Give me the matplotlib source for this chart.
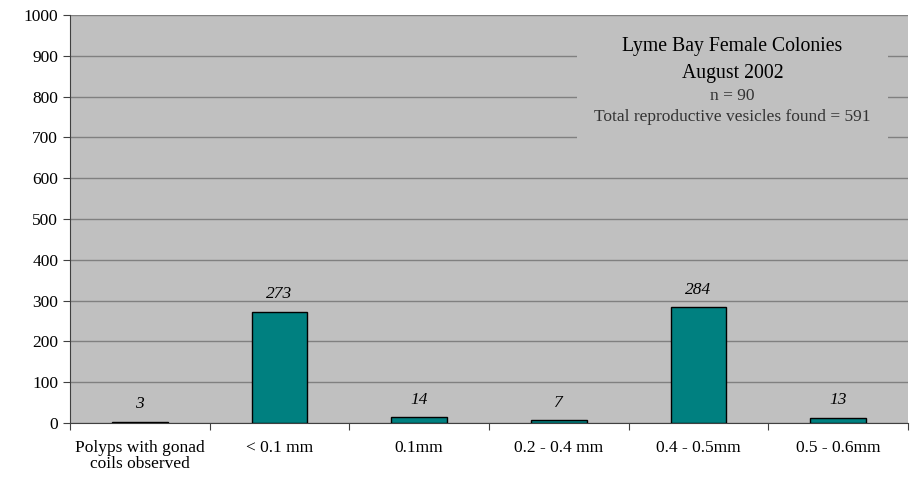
import matplotlib.pyplot as plt
import numpy as np
from matplotlib.patches import Rectangle

plt.rcParams['font.family'] = ['Liberation Serif', 'DejaVu Serif']

# Vesicle counts by size class
categories = ["Polyps with gonad\ncoils observed", "< 0.1 mm", "0.1mm",
              "0.2 - 0.4 mm", "0.4 - 0.5mm", "0.5 - 0.6mm"]
counts = [3, 273, 14, 7, 284, 13]
y_ticks = list(range(0, 1001, 100))

fig = plt.figure(figsize=(9.1, 4.79), dpi=100)
ax = fig.add_axes([0.0769, 0.1169, 0.9209, 0.8518])
ax.set_facecolor('#c0c0c0')

x = np.arange(len(categories))
ax.bar(x, counts, width=0.4, color='#008080', edgecolor='black', linewidth=1, zorder=3)

for xi, v in zip(x, counts):
    ax.annotate(str(v), (xi, v), xytext=(0, 12.5), textcoords='offset points',
                ha='center', va='center', fontsize=12.5, style='italic', zorder=4)

ax.set_xlim(-0.5, len(categories) - 0.5)
ax.set_ylim(0, 1000)
ax.set_yticks(y_ticks)
ax.yaxis.grid(True, color='#808080', linewidth=1, zorder=0)

# category labels sit between boundary ticks
ax.set_xticks(np.arange(-0.5, len(categories), 1))
ax.set_xticklabels([])
ax.set_xticks(x, minor=True)
ax.set_xticklabels(categories, minor=True, fontsize=12.5, linespacing=1.0)
ax.tick_params(axis='x', which='minor', length=0, pad=12)
ax.tick_params(axis='x', which='major', length=5, direction='out', color='#404040')
ax.tick_params(axis='y', length=5, direction='out', labelsize=12.5, color='#404040')

for s in ['top', 'right']:
    ax.spines[s].set_visible(False)
for s in ['left', 'bottom']:
    ax.spines[s].set_color('#404040')

# info box over the gridlines
ax.add_patch(Rectangle((0.605, 0.697), 0.371, 0.27, transform=ax.transAxes,
                       facecolor='#c0c0c0', edgecolor='none', zorder=2))
cx = 0.7906
ax.text(cx, 0.9216, "Lyme Bay Female Colonies", transform=ax.transAxes,
        ha='center', va='center', fontsize=14.2, zorder=5)
ax.text(cx, 0.8578, "August 2002", transform=ax.transAxes,
        ha='center', va='center', fontsize=14.2, zorder=5)
ax.text(cx, 0.8015, "n = 90", transform=ax.transAxes,
        ha='center', va='center', fontsize=12.5, color='#333333', zorder=5)
ax.text(cx, 0.75, "Total reproductive vesicles found = 591", transform=ax.transAxes,
        ha='center', va='center', fontsize=12.5, color='#333333', zorder=5)

fig.savefig('out.png', dpi=100)
